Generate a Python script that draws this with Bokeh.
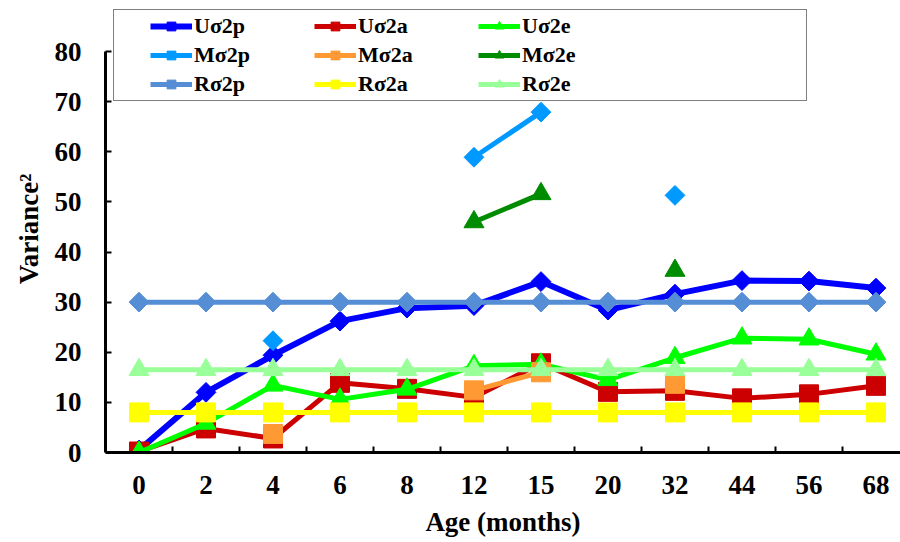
import math
from bokeh.plotting import figure
from bokeh.models import Range1d, FixedTicker, Legend, LegendItem, ColumnDataSource
from bokeh.embed import file_html
from bokeh.resources import INLINE

nan = float("nan")

ages = ["0", "2", "4", "6", "8", "12", "15", "20", "32", "44", "56", "68"]

u_p = [0.5, 12.0, 19.4, 26.2, 28.8, 29.3, 34.1, 28.4, 31.6, 34.3, 34.2, 32.8]
u_a = [0.2, 4.8, 2.8, 13.9, 12.7, 11.0, 17.8, 12.1, 12.3, 10.8, 11.6, 13.3]
u_e = [0.0, 5.8, 13.4, 10.6, 12.6, 17.3, 17.6, 14.5, 18.9, 22.8, 22.6, 19.6]
m_p = [nan, nan, 22.3, nan, nan, 58.9, 67.9, nan, 51.3, nan, nan, nan]
m_a = [nan, nan, 3.7, nan, nan, 12.4, 16.0, nan, 13.7, nan, nan, nan]
m_e = [nan, nan, nan, nan, nan, 46.0, 51.6, nan, 36.3, nan, nan, nan]
r_p = [30.0, 30.0, 30.0, 30.0, 30.0, 30.0, 30.0, 30.0, 30.0, 30.0, 30.0, 30.0]
r_a = [8.0, 8.0, 8.0, 8.0, 8.0, 8.0, 8.0, 8.0, 8.0, 8.0, 8.0, 8.0]
r_e = [16.5, 16.5, 16.5, 16.5, 16.5, 16.5, 16.5, 16.5, 16.5, 16.5, 16.5, 16.5]

series = [
    ("U\u03c32p", u_p, "#0000FF", "diamond", 6),
    ("U\u03c32a", u_a, "#CC0000", "square", 5),
    ("U\u03c32e", u_e, "#00FF00", "triangle", 5),
    ("M\u03c32p", m_p, "#0099FF", "diamond", 5),
    ("M\u03c32a", m_a, "#FF9933", "square", 5),
    ("M\u03c32e", m_e, "#008C00", "triangle", 5),
    ("R\u03c32p", r_p, "#558ED5", "diamond", 5),
    ("R\u03c32a", r_a, "#FFFF00", "square", 5),
    ("R\u03c32e", r_e, "#99FF99", "triangle", 5),
]

FONT = "Liberation Serif"

# frame: left 105, right 900, top 5, bottom 452 ; 0..80 spans 401 px
p = figure(width=900, height=542, output_backend="svg", toolbar_location=None,
           x_range=Range1d(-0.5, 11.366), y_range=Range1d(0, 89.18),
           min_border_left=105, min_border_right=0, min_border_top=5, min_border_bottom=90)
p.outline_line_color = None
p.xgrid.grid_line_color = None
p.ygrid.grid_line_color = None
p.background_fill_color = "white"

xs = list(range(len(ages)))
items = []
for name, vals, color, marker, lw in series:
    src = ColumnDataSource(dict(x=xs, y=vals))
    ln = p.line("x", "y", source=src, line_color=color, line_width=lw)
    if marker == "diamond":
        sc = p.scatter("x", "y", source=src, marker="square", angle=math.pi / 4,
                       size=14, fill_color=color, line_color=color)
    elif marker == "square":
        sc = p.scatter("x", "y", source=src, marker="square", size=19,
                       fill_color=color, line_color=color)
    else:
        sc = p.scatter("x", "y", source=src, marker="triangle", size=20,
                       fill_color=color, line_color=color)
    items.append(LegendItem(label=name, renderers=[ln, sc]))

# blank fourth legend column (empty, invisible renderer) to widen the legend box
blank = p.line(x=[], y=[], line_alpha=0)
legend_items = []
for r in range(3):
    legend_items.extend(items[r * 3:(r + 1) * 3])
    legend_items.append(LegendItem(label=" ", renderers=[blank]))

legend = Legend(items=legend_items, orientation="horizontal", ncols=4,
                location=(8, 351),
                title=" ", title_location="left", title_standoff=22,
                title_text_font_size="10px",
                label_text_font=FONT, label_text_font_style="bold",
                label_text_font_size="22px", label_text_color="black",
                glyph_width=42, glyph_height=22, label_standoff=2,
                label_width=117, label_height=24, spacing=3, padding=3,
                border_line_color="black", border_line_width=1.5,
                background_fill_color="white", background_fill_alpha=1.0)
p.add_layout(legend, "center")

xa = p.xaxis[0]
xa.ticker = FixedTicker(ticks=xs, minor_ticks=[i + 0.5 for i in range(len(ages) - 1)])
xa.major_label_overrides = {i: a for i, a in enumerate(ages)}
xa.major_tick_line_color = None
xa.minor_tick_in = 6
xa.minor_tick_out = 0
xa.minor_tick_line_width = 2
xa.minor_tick_line_color = "black"
xa.axis_line_width = 3
xa.axis_line_color = "black"
xa.major_label_text_font = FONT
xa.major_label_text_font_style = "bold"
xa.major_label_text_font_size = "27px"
xa.major_label_text_color = "black"
xa.major_label_standoff = 17
xa.axis_label = "Age (months)"
xa.axis_label_text_font = FONT
xa.axis_label_text_font_style = "bold"
xa.axis_label_text_font_size = "27px"
xa.axis_label_text_color = "black"
xa.axis_label_standoff = 10

ya = p.yaxis[0]
ya.bounds = (0, 80)
ya.ticker = FixedTicker(ticks=[0, 10, 20, 30, 40, 50, 60, 70, 80])
ya.major_tick_in = 6
ya.major_tick_out = 0
ya.major_tick_line_width = 2
ya.minor_tick_line_color = None
ya.axis_line_width = 3
ya.axis_line_color = "black"
ya.major_label_text_font = FONT
ya.major_label_text_font_style = "bold"
ya.major_label_text_font_size = "27px"
ya.major_label_text_color = "black"
ya.major_label_standoff = 24
ya.axis_label = "Variance\u00b2"
ya.axis_label_text_font = FONT
ya.axis_label_text_font_style = "bold"
ya.axis_label_text_font_size = "27px"
ya.axis_label_text_color = "black"
ya.axis_label_standoff = 8

open("out.html", "w").write(file_html(p, INLINE))
